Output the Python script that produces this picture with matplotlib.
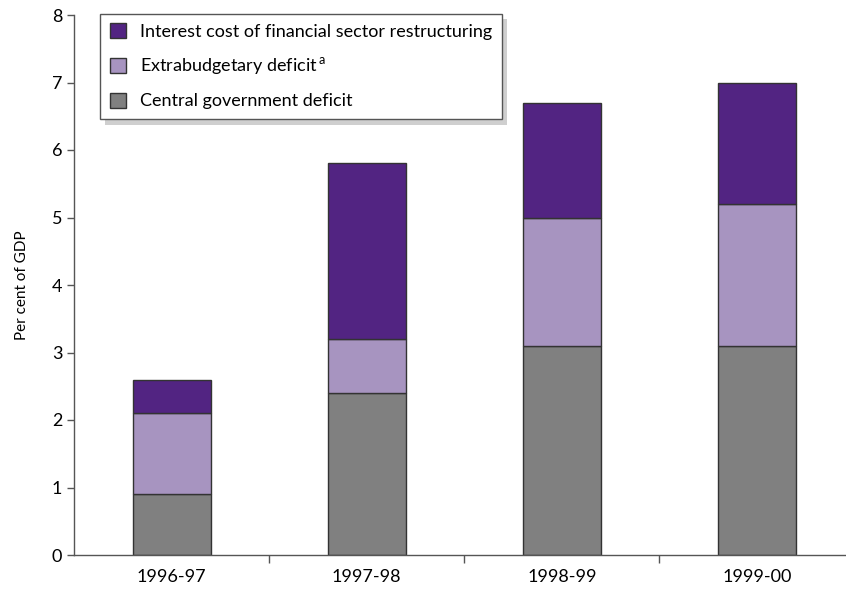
import matplotlib
matplotlib.use("Agg")
import matplotlib.pyplot as plt
from matplotlib.patches import Rectangle
import numpy as np

# Fiscal years and deficit components (per cent of GDP)
years = ["1996-97", "1997-98", "1998-99", "1999-00"]
central_gov = [0.9, 2.4, 3.1, 3.1]
extrabudgetary = [1.2, 0.8, 1.9, 2.1]
interest_cost = [0.5, 2.6, 1.7, 1.8]

labels = ["Central government deficit", "Extrabudgetary deficit$^{\\,\\mathrm{a}}$",
          "Interest cost of financial sector restructuring"]
colors = ["#808080", "#A794C0", "#522482"]

plt.rcParams["font.family"] = ["Lato", "DejaVu Sans"]
plt.rcParams["mathtext.fontset"] = "custom"
plt.rcParams["mathtext.rm"] = "Lato"

W, H = 846, 591
fig = plt.figure(figsize=(W / 100, H / 100), dpi=100)
ax = fig.add_axes([74 / W, 36 / H, 780.5 / W, 540 / H])

x = np.arange(len(years))
width = 0.4
bottom = np.zeros(len(years))
handles = []
for vals, lab, col in zip([central_gov, extrabudgetary, interest_cost], labels, colors):
    h = ax.bar(x, vals, width, bottom=bottom, color=col, edgecolor="#333333",
               linewidth=1.0, label=lab)
    handles.append(h)
    bottom += np.array(vals)

ax.set_xlim(-0.5, len(years) - 0.5)
ax.set_ylim(0, 8)
ax.set_yticks(range(0, 9))
ax.tick_params(axis="y", labelsize=13, length=5, color="#555555", width=1)

# category labels centred, tick marks on the category boundaries
ax.set_xticks(x)
ax.set_xticklabels(years, fontsize=13)
ax.tick_params(axis="x", which="major", length=0, pad=10)
ax.set_xticks(np.arange(0.5, len(years) - 0.5, 1.0), minor=True)
ax.tick_params(axis="x", which="minor", length=6, color="#555555", width=1, direction="out")

for s in ["top", "right"]:
    ax.spines[s].set_visible(False)
for s in ["left", "bottom"]:
    ax.spines[s].set_color("#555555")
    ax.spines[s].set_linewidth(1)

ax.set_ylabel("Per cent of GDP", fontsize=11, labelpad=16)

leg = fig.legend(handles[::-1], labels[::-1], loc="upper left",
                 bbox_to_anchor=(100 / W, 1 - 13.5 / H), bbox_transform=fig.transFigure,
                 fontsize=13, frameon=True, fancybox=False, shadow=False,
                 edgecolor="#555555", handlelength=0.9, handleheight=0.9,
                 handletextpad=0.75, labelspacing=0.85, borderpad=0.55,
                 borderaxespad=0)
leg.get_frame().set_linewidth(1)
leg.get_frame().set_alpha(1)
leg.set_zorder(5)

# drop shadow behind the legend box
fig.canvas.draw()
bb = leg.get_frame().get_window_extent()
shadow = Rectangle(((bb.x0 + 5) / W, (bb.y0 - 6) / H), bb.width / W, bb.height / H,
                   transform=fig.transFigure, facecolor="#cfcfcf", edgecolor="none",
                   zorder=4)
fig.add_artist(shadow)

fig.savefig("out.png", dpi=100)
